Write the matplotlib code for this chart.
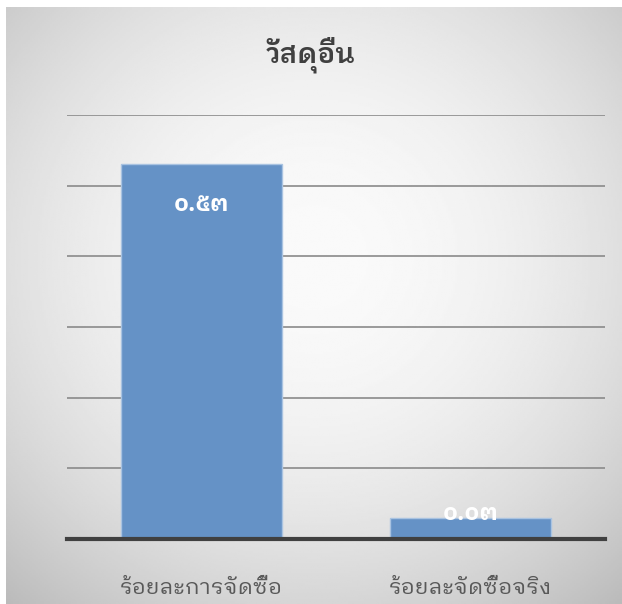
import numpy as np
import matplotlib.pyplot as plt

categories = ['ร้อยละการจัดซื้อ', 'ร้อยละจัดซื้อจริง']
values = [0.53, 0.03]
value_labels = ['๐.๕๓', '๐.๐๓']
title = 'วัสดุอื่น'

thai_font = ['IBM Plex Sans Thai Looped', 'Noto Sans Thai', 'DejaVu Sans']
plt.rcParams['font.family'] = thai_font

W, H = 622, 604
fig = plt.figure(figsize=(W / 100, H / 100), dpi=100)
fig.patch.set_facecolor('white')

# radial grey background of the chart area
bg = fig.add_axes([6 / W, 0, (W - 6) / W, (H - 7) / H])
yy, xx = np.mgrid[0:1:300j, 0:1:300j]
r = np.sqrt(((xx - 0.5) / 0.72) ** 2 + ((yy - 0.42) / 0.72) ** 2)
shade = np.clip(0.98 - 0.22 * r ** 2, 0, 1)
bg.imshow(shade, cmap='gray', vmin=0, vmax=1, extent=[0, 1, 0, 1], aspect='auto', origin='upper')
bg.axis('off')

ax = fig.add_axes([67 / W, (H - 539) / H, (605 - 67) / W, (539 - 115) / H])
ax.patch.set_alpha(0)

x = np.arange(len(categories))
bars = ax.bar(x, values, width=0.6, color='#6592c6', edgecolor='#a9c3e1', linewidth=1.0, zorder=3)

ax.set_xlim(-0.5, len(categories) - 0.5)
ax.set_ylim(0, 0.6)
ax.set_yticks(np.arange(0.1, 0.61, 0.1))
ax.yaxis.grid(True, color='#8a8a8a', linewidth=1.2, zorder=1)
ax.set_axisbelow(True)
ax.tick_params(axis='y', length=0, labelleft=False)
ax.tick_params(axis='x', length=0, pad=27)
ax.set_xticks(x)
ax.set_xticklabels(categories, fontsize=16, color='#595959')
for s in ['top', 'right', 'left']:
    ax.spines[s].set_visible(False)
ax.spines['bottom'].set_color('#404040')
ax.spines['bottom'].set_linewidth(3)
ax.spines['bottom'].set_zorder(4)

offsets = [-29, 3]
for b, lab, off in zip(bars, value_labels, offsets):
    ax.annotate(lab, (b.get_x() + b.get_width() / 2, b.get_height()),
                xytext=(0, off), textcoords='offset points', ha='center', va='center',
                fontsize=17, fontweight='bold', color='white', zorder=5)

fig.text(0.5, 1 - 55 / H, title, ha='center', va='center', fontsize=20,
         fontweight='semibold', color='#404040')

fig.savefig('out.png', dpi=100)
